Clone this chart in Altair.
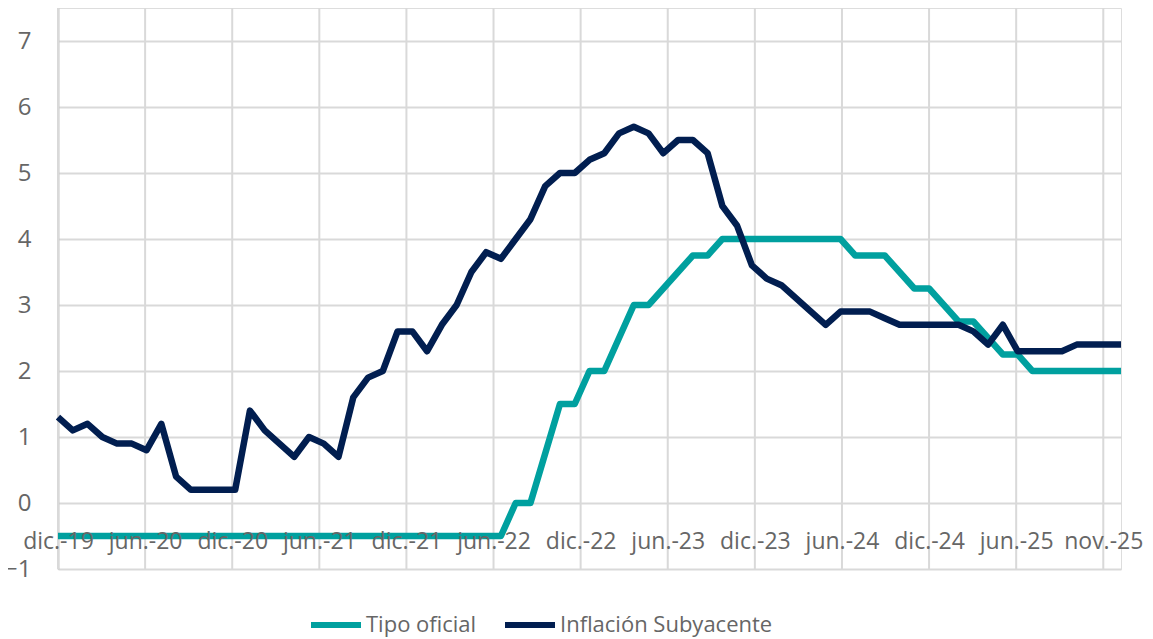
import altair as alt
import pandas as pd

# Monthly data, dic-19 ... dic-25 (73 points)
tipo_oficial = [
    -0.5, -0.5, -0.5, -0.5, -0.5, -0.5, -0.5, -0.5, -0.5, -0.5, -0.5, -0.5, -0.5,
    -0.5, -0.5, -0.5, -0.5, -0.5, -0.5, -0.5, -0.5, -0.5, -0.5, -0.5, -0.5,
    -0.5, -0.5, -0.5, -0.5, -0.5, -0.5, 0.0, 0.0, 0.75, 1.5, 1.5, 2.0,
    2.0, 2.5, 3.0, 3.0, 3.25, 3.5, 3.75, 3.75, 4.0, 4.0, 4.0, 4.0,
    4.0, 4.0, 4.0, 4.0, 4.0, 3.75, 3.75, 3.75, 3.5, 3.25, 3.25, 3.0,
    2.75, 2.75, 2.5, 2.25, 2.25, 2.0, 2.0, 2.0, 2.0, 2.0, 2.0, 2.0,
]
inflacion_subyacente = [
    1.3, 1.1, 1.2, 1.0, 0.9, 0.9, 0.8, 1.2, 0.4, 0.2, 0.2, 0.2, 0.2,
    1.4, 1.1, 0.9, 0.7, 1.0, 0.9, 0.7, 1.6, 1.9, 2.0, 2.6, 2.6,
    2.3, 2.7, 3.0, 3.5, 3.8, 3.7, 4.0, 4.3, 4.8, 5.0, 5.0, 5.2,
    5.3, 5.6, 5.7, 5.6, 5.3, 5.5, 5.5, 5.3, 4.5, 4.2, 3.6, 3.4,
    3.3, 3.1, 2.9, 2.7, 2.9, 2.9, 2.9, 2.8, 2.7, 2.7, 2.7, 2.7,
    2.7, 2.6, 2.4, 2.7, 2.3, 2.3, 2.3, 2.3, 2.4, 2.4, 2.4, 2.4,
]
tick_labels = ["dic.-19", "jun.-20", "dic.-20", "jun.-21", "dic.-21", "jun.-22",
               "dic.-22", "jun.-23", "dic.-23", "jun.-24", "dic.-24", "jun.-25",
               "nov.-25"]
series = ["Tipo oficial", "Inflación Subyacente"]
colors = ["#00A09F", "#011E50"]

GRID_STEP = 5.9
grid_pos = [k * GRID_STEP for k in range(len(tick_labels))]

rows = []
for i, v in enumerate(tipo_oficial):
    rows.append({"i": i, "valor": v, "serie": series[0], "orden": 0})
for i, v in enumerate(inflacion_subyacente):
    rows.append({"i": i, "valor": v, "serie": series[1], "orden": 1})
df = pd.DataFrame(rows)
grid_df = pd.DataFrame({"i": grid_pos})

FONT = "Open Sans"
TXT = "#666666"
GRID = "#D9D9D9"

label_arr = "[" + ",".join("'%s'" % t for t in tick_labels) + "]"

x_scale = alt.Scale(domain=[0, 72], nice=False, zero=False)
y_scale = alt.Scale(domain=[-1, 7.5], nice=False, zero=False)

x_axis = alt.Axis(values=grid_pos, labelExpr=label_arr + "[round(datum.value/%s)]" % GRID_STEP,
                  grid=False, domain=False, ticks=False, tickSize=0,
                  labelPadding=-28, labelBaseline="middle", labelOverlap=False,
                  labelFlush=False, labelBound=False, zindex=1,
                  labelFont=FONT, labelFontSize=23, labelColor=TXT)

vgrid = alt.Chart(grid_df).mark_rule(color=GRID, strokeWidth=2).encode(
    x=alt.X("i:Q", scale=x_scale, axis=x_axis, title=None)
)

lines = alt.Chart(df).mark_line(strokeWidth=6.5, strokeJoin="round").encode(
    x=alt.X("i:Q", scale=x_scale, title=None, axis=x_axis),
    y=alt.Y("valor:Q", scale=y_scale, title=None,
            axis=alt.Axis(values=list(range(-1, 8)), grid=True, gridColor=GRID, gridWidth=2,
                          domain=True, domainColor="#C8C8C8", domainWidth=2,
                          ticks=False, tickSize=0, labelPadding=27,
                          labelFont=FONT, labelFontSize=24, labelColor=TXT)),
    color=alt.Color("serie:N", scale=alt.Scale(domain=series, range=colors),
                    legend=alt.Legend(title=None, orient="none", direction="horizontal",
                                      legendX=250, legendY=589,
                                      symbolType="stroke", symbolSize=2500, symbolStrokeWidth=6,
                                      labelFont=FONT, labelFontSize=22, labelColor=TXT,
                                      labelLimit=0, labelOffset=2, columnPadding=16)),
    order=alt.Order("orden:Q"),
    detail="serie:N",
)

chart = alt.layer(vgrid, lines).properties(
    width=1063, height=561,
    autosize=alt.AutoSizeParams(type="none"),
    padding={"left": 50, "top": 0, "right": 24, "bottom": 70},
).configure_view(stroke=None).configure(background="white")

chart.save("out.html", embed_options={"renderer": "svg", "actions": False})
